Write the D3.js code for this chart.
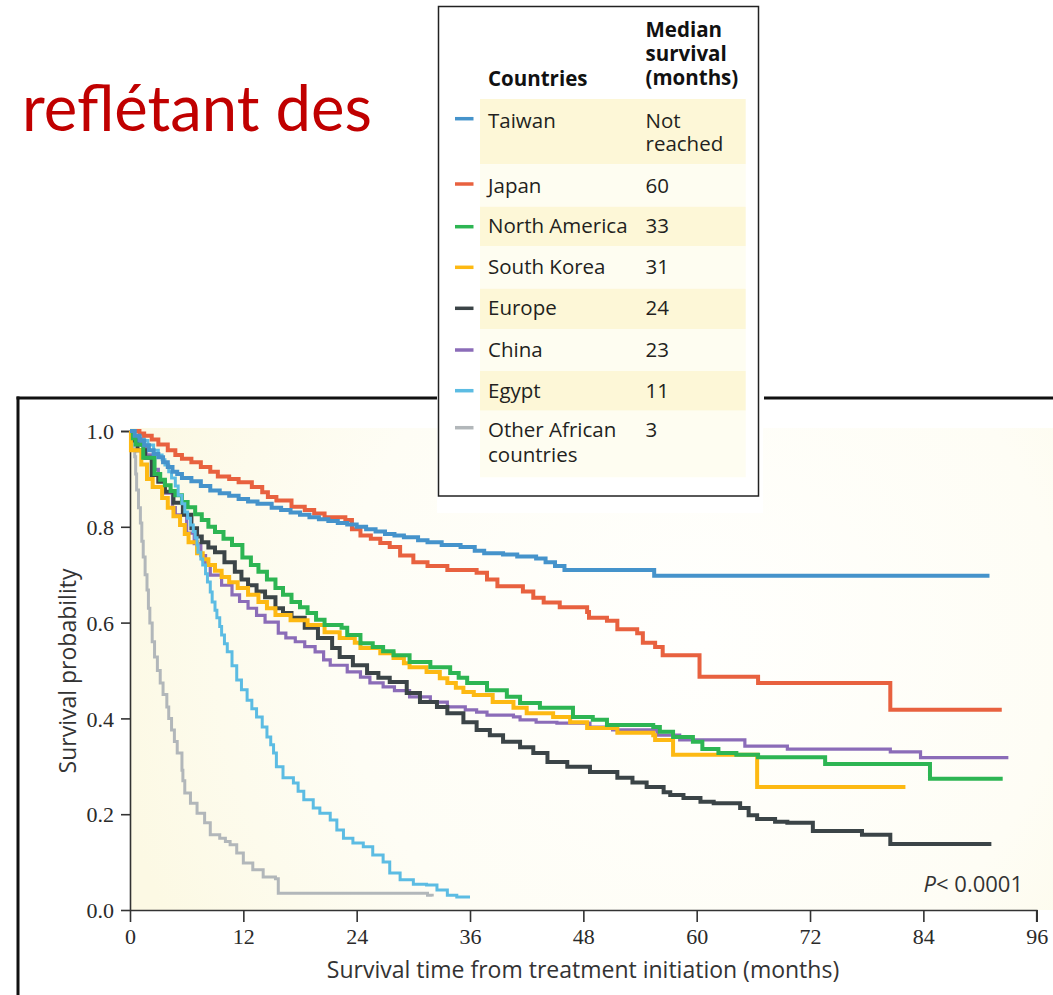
<!DOCTYPE html>
<html>
<head>
<meta charset="utf-8">
<script src="https://cdn.jsdelivr.net/npm/d3@7"></script>
<style>
html,body{margin:0;padding:0;background:#fff;}
svg{display:block;}
</style>
</head>
<body>
<svg id="chart" width="1053" height="995"></svg>
<script>
// ---------- DATA ----------
const countries = ["Taiwan","Japan","North America","South Korea","Europe","China","Egypt","Other African countries"];
const countryLines = [["Taiwan"],["Japan"],["North America"],["South Korea"],["Europe"],["China"],["Egypt"],["Other African","countries"]];
const medianLines = [["Not","reached"],["60"],["33"],["31"],["24"],["23"],["11"],["3"]];
const headerLines = ["Median","survival","(months)"];
const colors = ["#4593cb","#e8613f","#2db553","#fdb913","#3b4447","#8b6cb8","#5cbce3","#b2b7ba"];
const strokeWidths = [4,4,4,4,4,3.2,3,3];

const xTicks = [0,12,24,36,48,60,72,84,96];
const yTicks = [0,0.2,0.4,0.6,0.8,1.0];

const taiwan = [[0,1],[0.5,0.99],[1,0.98],[1.5,0.97],[2,0.96],[2.5,0.952],[3,0.945],[3.5,0.935],[4,0.925],[4.5,0.915],[5,0.91],[5.5,0.902],[6.5,0.895],[7.5,0.885],[8.5,0.876],[9.5,0.87],[10.5,0.865],[11.5,0.858],[12.5,0.853],[13.5,0.848],[15,0.84],[16,0.835],[17,0.83],[18,0.825],[19,0.82],[20,0.816],[21,0.812],[22,0.808],[23,0.805],[24,0.8],[25,0.795],[26,0.79],[27,0.785],[28,0.782],[29,0.778],[30.5,0.772],[31.5,0.768],[33,0.762],[35,0.758],[36.5,0.75],[37.5,0.745],[39.5,0.742],[41,0.738],[43,0.734],[44,0.726],[45,0.718],[46,0.71],[54.5,0.71],[55.5,0.698],[91,0.698]];
const japan = [[0,1],[1,0.995],[1.5,0.99],[2.3,0.982],[3,0.972],[4,0.96],[4.8,0.95],[5.5,0.942],[6.5,0.935],[7.5,0.925],[8.5,0.915],[9.3,0.905],[10.5,0.9],[11.5,0.893],[12.9,0.883],[14,0.872],[14.6,0.862],[15.5,0.855],[17.1,0.842],[18.5,0.835],[19.5,0.828],[20.6,0.82],[22.8,0.814],[23.5,0.795],[24.4,0.782],[25.5,0.775],[26.5,0.766],[27.5,0.758],[28.6,0.74],[30,0.726],[31.5,0.718],[33.6,0.71],[36.7,0.704],[37.8,0.69],[38.9,0.676],[41.6,0.665],[42.7,0.652],[43.8,0.642],[45.5,0.632],[48.4,0.622],[48.6,0.61],[50.5,0.604],[51.6,0.586],[53.7,0.578],[54.3,0.558],[55.6,0.549],[56.4,0.532],[60.3,0.487],[66.5,0.474],[80.5,0.418],[92.3,0.418]];
const northAmerica = [[0,1],[0.3,0.985],[0.6,0.972],[1.4,0.944],[2.6,0.91],[3.2,0.898],[3.7,0.887],[4.3,0.875],[4.8,0.866],[5.5,0.852],[6.1,0.841],[6.9,0.826],[7.6,0.814],[8.3,0.8],[9,0.789],[9.9,0.775],[10.8,0.762],[11.9,0.736],[12.8,0.72],[13.6,0.706],[14.5,0.69],[15.4,0.672],[16.2,0.658],[17.1,0.643],[18,0.632],[18.8,0.62],[19.7,0.606],[20.6,0.595],[22.4,0.589],[23,0.574],[24.4,0.557],[25.7,0.549],[26.8,0.54],[27.9,0.532],[29.6,0.518],[31.8,0.507],[33.9,0.495],[34.8,0.485],[35.7,0.474],[37.8,0.459],[39.9,0.445],[41.3,0.432],[43.4,0.422],[46.9,0.403],[49,0.397],[50.5,0.386],[55.4,0.382],[56.1,0.372],[57.5,0.361],[59.6,0.351],[60.6,0.336],[62.3,0.328],[64.2,0.324],[66.5,0.319],[73.6,0.305],[84.7,0.274],[92.4,0.274]];
const southKorea = [[0,1],[0.1,0.96],[1.2,0.93],[1.8,0.9],[2.4,0.883],[3.4,0.86],[4,0.84],[4.6,0.822],[5.3,0.804],[5.8,0.785],[6.2,0.768],[7.1,0.745],[7.7,0.732],[8.3,0.72],[9,0.708],[9.7,0.695],[10.5,0.684],[11.4,0.672],[12.5,0.658],[13.6,0.643],[14.5,0.63],[15.4,0.616],[17,0.605],[18.8,0.595],[20.6,0.58],[22.2,0.568],[23.8,0.558],[24.4,0.547],[26.5,0.536],[27.9,0.526],[29,0.515],[29.6,0.507],[31.4,0.497],[32.8,0.484],[33.6,0.474],[34.5,0.464],[35.3,0.455],[36.4,0.449],[38.4,0.434],[40.6,0.422],[42,0.411],[44.8,0.403],[46.6,0.392],[48.4,0.38],[51.6,0.37],[55.4,0.365],[55.6,0.355],[57.5,0.324],[66.4,0.257],[82.1,0.257]];
const europe = [[0,1],[0.3,0.98],[0.8,0.96],[1.6,0.944],[2.3,0.908],[3,0.894],[3.7,0.873],[4.6,0.85],[5.6,0.825],[6.5,0.797],[7.1,0.78],[7.6,0.768],[8.3,0.757],[9,0.747],[10,0.726],[11.1,0.706],[11.8,0.69],[12.5,0.678],[13.4,0.665],[14.3,0.653],[15.4,0.63],[16.2,0.62],[17.1,0.61],[18.5,0.589],[19.9,0.568],[21.4,0.547],[22.2,0.528],[23.6,0.511],[25.1,0.495],[26.3,0.485],[27.5,0.476],[29.3,0.453],[30.7,0.434],[32.5,0.424],[33.6,0.411],[35.3,0.392],[36.7,0.376],[38.1,0.365],[39.5,0.351],[41.3,0.34],[42.7,0.328],[44.2,0.309],[46.3,0.299],[48.7,0.288],[51.6,0.276],[53.2,0.266],[54.7,0.257],[56.5,0.246],[57.2,0.24],[58.6,0.234],[60.4,0.226],[61.8,0.223],[64.6,0.213],[65.5,0.198],[66.4,0.19],[68.3,0.184],[69.6,0.182],[72.3,0.165],[77.5,0.157],[80.5,0.138],[91.2,0.138]];
const china = [[0,1],[0.5,0.985],[1.2,0.97],[1.7,0.95],[2.3,0.92],[3,0.895],[3.7,0.87],[4.5,0.84],[4.8,0.825],[6,0.787],[6.8,0.765],[7.5,0.74],[8,0.72],[8.5,0.699],[9.7,0.678],[10.8,0.658],[11.6,0.644],[12.5,0.63],[13.4,0.615],[14.3,0.601],[15.7,0.578],[16.5,0.568],[17.5,0.56],[18.5,0.55],[19.6,0.539],[20.5,0.522],[21.2,0.511],[23,0.497],[24.4,0.486],[25.4,0.474],[26.8,0.466],[28,0.458],[29.6,0.445],[31.8,0.434],[33.6,0.424],[35.5,0.418],[36.7,0.413],[37.8,0.407],[40.6,0.403],[41.3,0.397],[43,0.392],[45.2,0.39],[48.7,0.382],[51.1,0.376],[55.8,0.365],[58.2,0.355],[65.1,0.342],[69.6,0.336],[80.5,0.33],[83.7,0.318],[93,0.318]];
const egypt = [[0,1],[1,0.99],[1.5,0.98],[1.9,0.971],[2.5,0.96],[3,0.95],[3.4,0.94],[3.7,0.929],[4.1,0.915],[4.4,0.902],[4.8,0.885],[5.1,0.866],[5.5,0.848],[5.8,0.831],[6.1,0.818],[6.4,0.804],[6.7,0.79],[6.9,0.777],[7.1,0.762],[7.2,0.747],[7.5,0.733],[7.7,0.72],[8,0.702],[8.2,0.685],[8.5,0.664],[8.7,0.643],[9,0.626],[9.2,0.61],[9.5,0.592],[9.7,0.574],[10,0.556],[10.3,0.539],[10.8,0.51],[11.3,0.48],[11.8,0.46],[12.4,0.438],[12.9,0.42],[13.4,0.403],[14,0.382],[14.5,0.361],[14.9,0.345],[15.2,0.328],[15.5,0.299],[16.2,0.276],[17.3,0.265],[17.8,0.248],[18.4,0.23],[19.4,0.213],[20.1,0.202],[21.2,0.188],[21.9,0.167],[22.6,0.15],[23.6,0.14],[24.7,0.132],[25.7,0.115],[26.8,0.1],[27.5,0.077],[28.6,0.063],[30,0.054],[31.4,0.052],[32.5,0.042],[33.6,0.031],[34.6,0.027],[36,0.027]];
const otherAfrican = [[0,1],[0.2,0.98],[0.35,0.96],[0.5,0.946],[0.6,0.91],[0.7,0.877],[0.9,0.84],[1.1,0.808],[1.25,0.77],[1.4,0.737],[1.6,0.7],[1.8,0.668],[1.95,0.63],[2.1,0.599],[2.35,0.56],[2.6,0.528],[2.9,0.5],[3.2,0.474],[3.5,0.45],[3.9,0.424],[4.1,0.4],[4.4,0.376],[4.7,0.352],[5,0.328],[5.5,0.292],[5.6,0.27],[5.8,0.244],[6.4,0.223],[7.1,0.202],[7.9,0.182],[8.5,0.157],[9.5,0.15],[10.1,0.143],[10.6,0.136],[11.3,0.119],[12,0.098],[13,0.084],[14.1,0.069],[15.4,0.065],[15.7,0.035],[31.5,0.031],[32,0.028]];

const seriesValues = [taiwan, japan, northAmerica, southKorea, europe, china, egypt, otherAfrican];
const drawOrder = [7,5,4,3,2,6,1,0];

// ---------- LAYOUT ----------
const svg = d3.select("#chart");
const x = d3.scaleLinear().domain([0,96]).range([130,1036.7]);
const y = d3.scaleLinear().domain([0,1]).range([910,431]);

const defs = svg.append("defs");
const grad = defs.append("radialGradient").attr("id","bg").attr("gradientUnits","userSpaceOnUse")
  .attr("cx",700).attr("cy",640).attr("r",600);
grad.append("stop").attr("offset","0").attr("stop-color","#fffffd");
grad.append("stop").attr("offset","0.6").attr("stop-color","#fefdf5");
grad.append("stop").attr("offset","1").attr("stop-color","#fcf9e4");

svg.append("rect").attr("x",130).attr("y",428).attr("width",923).attr("height",482).attr("fill","url(#bg)");
svg.append("rect").attr("x",437).attr("y",380).attr("width",326).attr("height",133).attr("fill","#fff");

// outer frame
svg.append("line").attr("x1",18).attr("x2",18).attr("y1",396.5).attr("y2",1000).attr("stroke","#111").attr("stroke-width",3);
svg.append("line").attr("x1",16.5).attr("x2",437).attr("y1",398).attr("y2",398).attr("stroke","#111").attr("stroke-width",3);
svg.append("line").attr("x1",764).attr("x2",1060).attr("y1",398).attr("y2",398).attr("stroke","#111").attr("stroke-width",3);

// title
svg.append("text").attr("x",22).attr("y",131).attr("font-family","Lato, 'Open Sans', sans-serif")
  .attr("font-size",64).attr("fill","#c00000").attr("textLength",350).attr("lengthAdjust","spacingAndGlyphs")
  .text("reflétant des");

// axes
const axisColor = "#333";
const xAxis = d3.axisBottom(x).tickValues(xTicks).tickSize(12).tickPadding(6).tickFormat(d3.format("d"));
const gx = svg.append("g").attr("transform","translate(0,910)").call(xAxis);
const yAxis = d3.axisLeft(y).tickValues(yTicks).tickSize(9).tickPadding(7).tickFormat(d3.format(".1f"));
const gy = svg.append("g").attr("transform","translate(130,0)").call(yAxis);
[gx,gy].forEach(g=>{
  g.select(".domain").attr("stroke",axisColor).attr("stroke-width",1.6);
  g.selectAll(".tick line").attr("stroke",axisColor).attr("stroke-width",1.6);
  g.selectAll(".tick text").attr("font-family","'Liberation Serif','Times New Roman',serif").attr("font-size",22).attr("fill","#2a2a2a");
});
gx.select(".domain").attr("d","M130,0.5H1036.7V12");
gy.select(".domain").attr("d","M-9,431.5H0.5V910");
gy.selectAll(".tick text").attr("dy","0.35em");

// axis titles
svg.append("text").attr("x",583).attr("y",978).attr("text-anchor","middle")
  .attr("font-family","'Open Sans', sans-serif").attr("font-size",23).attr("fill","#333")
  .text("Survival time from treatment initiation (months)");
svg.append("text").attr("transform","translate(76,671) rotate(-90)").attr("text-anchor","middle")
  .attr("font-family","'Open Sans', sans-serif").attr("font-size",23).attr("fill","#333")
  .text("Survival probability");

// p value
const pt = svg.append("text").attr("x",1023).attr("y",892).attr("text-anchor","end")
  .attr("font-family","'Open Sans', sans-serif").attr("font-size",22).attr("fill","#333");
pt.append("tspan").attr("font-style","italic").text("P");
pt.append("tspan").text("< 0.0001");

// curves
const line = d3.line().x(d=>x(d[0])).y(d=>y(d[1])).curve(d3.curveStepAfter);
const gl = svg.append("g");
drawOrder.forEach(i=>{
  gl.append("path").datum(seriesValues[i]).attr("d",line).attr("fill","none")
    .attr("stroke",colors[i]).attr("stroke-width",strokeWidths[i]).attr("stroke-linejoin","miter");
});

// legend
const lg = svg.append("g");
lg.append("rect").attr("x",438.5).attr("y",6.5).attr("width",320).attr("height",489.5)
  .attr("fill","#fff").attr("stroke","#222").attr("stroke-width",1.5);
const rowTop = [99,164.3,206.7,246,288.7,329,371,410.7,477.3];
const baseY = [128.3,192.7,233.3,274,315,356.7,398.3,437.3];
const swatchY = [118.7,184,226.7,267.3,308.3,350,390.7,427.7];
const fontL = "'Open Sans', sans-serif";
function multiLine(g, xPos, yPos, lines, lh, bold){
  const t = g.append("text").attr("x",xPos).attr("y",yPos).attr("font-family",fontL).attr("font-size",20.5)
    .attr("fill", bold ? "#111" : "#231f20").attr("font-weight", bold ? "bold" : "normal");
  lines.forEach((s,k)=>{
    t.append("tspan").attr("x",xPos).attr("dy", k===0 ? 0 : lh).text(s);
  });
  return t;
}
countries.forEach((c,i)=>{
  lg.append("rect").attr("x",480).attr("y",rowTop[i]).attr("width",265.7).attr("height",rowTop[i+1]-rowTop[i])
    .attr("fill", i%2===0 ? "#fdf7d7" : "#fefdf1");
  lg.append("line").attr("x1",455).attr("x2",473.5).attr("y1",swatchY[i]).attr("y2",swatchY[i])
    .attr("stroke",colors[i]).attr("stroke-width",3.5);
  multiLine(lg, 488, baseY[i], countryLines[i], 24.5, false);
  multiLine(lg, 645.5, baseY[i], medianLines[i], 22.5, false);
});
multiLine(lg, 488, 85.5, ["Countries"], 24, true);
multiLine(lg, 645.5, 37, headerLines, 24, true);
</script>
</body>
</html>
